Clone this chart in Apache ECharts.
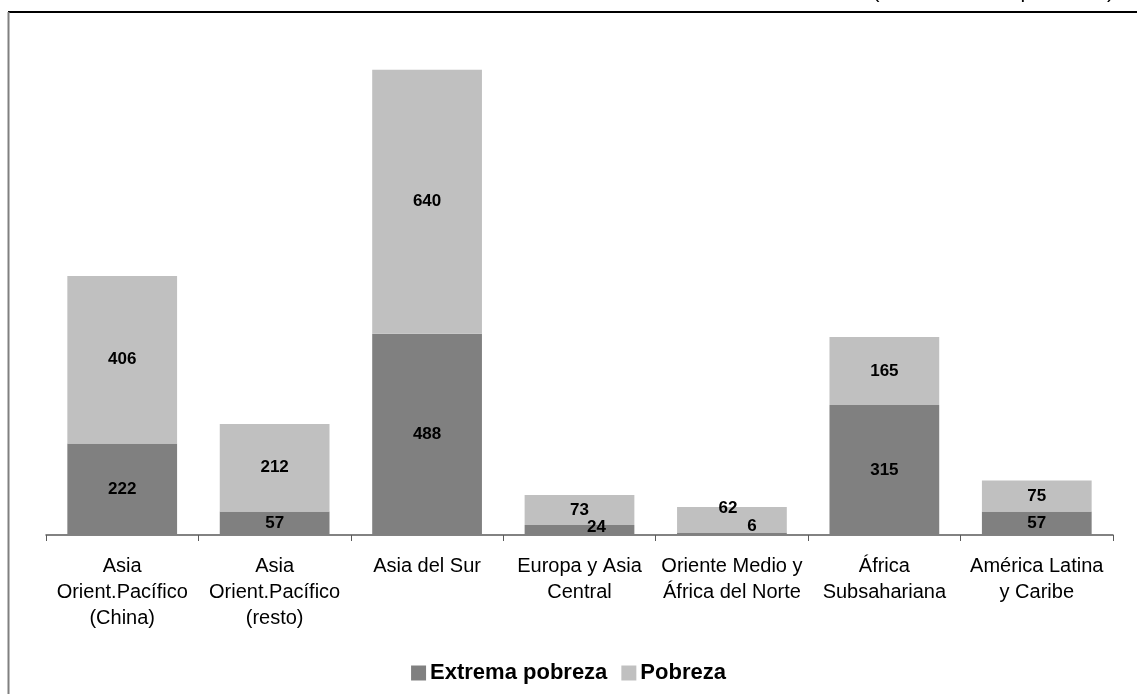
<!DOCTYPE html>
<html>
<head>
<meta charset="utf-8">
<script src="https://cdn.jsdelivr.net/npm/echarts@6/dist/echarts.min.js"></script>
<style>
html,body{margin:0;padding:0;background:#fff;}
#chart{width:1137px;height:694px;}
</style>
</head>
<body>
<div id="chart"></div>
<script>
const categories = [
  'Asia\nOrient.Pacífico\n(China)',
  'Asia\nOrient.Pacífico\n(resto)',
  'Asia del Sur',
  'Europa y Asia\nCentral',
  'Oriente Medio y\nÁfrica del Norte',
  'África\nSubsahariana',
  'América Latina\ny Caribe'
];
const extremaPobreza = [222, 57, 488, 24, 6, 315, 57];
const pobreza = [406, 212, 640, 73, 62, 165, 75];
const seriesNames = ['Extrema pobreza', 'Pobreza'];
const unitNote = '(en millones de personas)';

// manual label nudges (as in the original, where small segments had labels moved)
const extremaOffsets = [null, null, null, [17, -3], [20, -7], null, null];
const pobrezaOffsets = [null, null, null, null, [-4, -11], null, null];

const font = '"Liberation Sans", Arial, sans-serif';

function buildData(values, offsets) {
  return values.map((v, i) => {
    const item = { value: v };
    if (offsets[i]) item.label = { offset: offsets[i] };
    return item;
  });
}

const labelStyle = {
  show: true,
  position: 'inside',
  color: '#000',
  fontFamily: font,
  fontWeight: 'bold',
  fontSize: 17
};

const chart = echarts.init(document.getElementById('chart'));
chart.setOption({
  animation: false,
  backgroundColor: '#fff',
  grid: { left: 46, right: 24, top: 40, bottom: 159, containLabel: false },
  xAxis: {
    type: 'category',
    data: categories,
    axisLine: { lineStyle: { color: '#5a5a5a', width: 1.5 } },
    axisTick: { show: true, length: 6, lineStyle: { color: '#5a5a5a' } },
    axisLabel: {
      color: '#000',
      fontFamily: font,
      fontSize: 20,
      lineHeight: 26,
      margin: 18,
      interval: 0
    }
  },
  yAxis: {
    type: 'value',
    min: 0,
    max: 1200,
    show: false,
    splitLine: { show: false }
  },
  legend: {
    data: seriesNames,
    left: 'center',
    top: 657,
    itemWidth: 15,
    itemHeight: 15,
    itemGap: 14,
    icon: 'rect',
    textStyle: { fontFamily: font, fontWeight: 'bold', fontSize: 22, color: '#000', padding: [0, 0, 0, -1] }
  },
  series: [
    {
      name: seriesNames[0],
      type: 'bar',
      stack: 'total',
      barCategoryGap: '28%',
      itemStyle: { color: '#808080' },
      label: labelStyle,
      data: buildData(extremaPobreza, extremaOffsets)
    },
    {
      name: seriesNames[1],
      type: 'bar',
      stack: 'total',
      barCategoryGap: '28%',
      itemStyle: { color: '#c0c0c0' },
      label: labelStyle,
      data: buildData(pobreza, pobrezaOffsets)
    }
  ],
  graphic: [
    { type: 'line', shape: { x1: 8, y1: 12, x2: 1137, y2: 12 }, style: { stroke: '#000', lineWidth: 2 } },
    { type: 'line', shape: { x1: 8.5, y1: 12, x2: 8.5, y2: 694 }, style: { stroke: '#808080', lineWidth: 2 } },
    { type: 'text', right: 23, top: -18, style: { text: unitNote, font: '21px ' + font, fill: '#000' } }
  ]
});
</script>
</body>
</html>
